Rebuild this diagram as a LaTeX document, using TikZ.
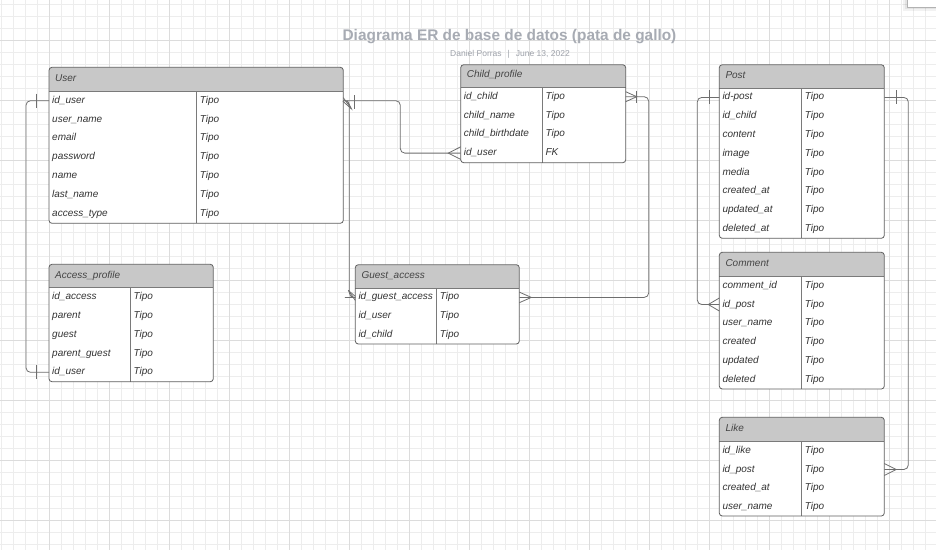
\documentclass[tikz,border=0pt]{standalone}
\usepackage{fontspec}
\setmainfont{Liberation Sans}
\usetikzlibrary{calc}
\definecolor{gridminor}{HTML}{EDEDED}
\definecolor{gridmajor}{HTML}{DCDCDC}
\definecolor{tblborder}{HTML}{5F5F5F}
\definecolor{hdrgray}{HTML}{C8C8C8}
\definecolor{divgray}{HTML}{7A7A7A}
\definecolor{rowink}{HTML}{333333}
\definecolor{hdrink}{HTML}{444444}
\definecolor{connink}{HTML}{6E6E6E}
\definecolor{titleink}{HTML}{A7ABB3}
\definecolor{subink}{HTML}{9EA2AA}
\tikzset{
  minorline/.style={draw=gridminor, line width=0.6pt},
  majorline/.style={draw=gridmajor, line width=0.8pt},
  tblbody/.style={draw=tblborder, line width=0.8pt, rounded corners=3pt, inner sep=0pt, outer sep=0pt},
  sepline/.style={draw=divgray, line width=0.7pt},
  hdrtext/.style={inner sep=0pt, font=\fontsize{10}{12}\selectfont\itshape, text=hdrink},
  rowtext/.style={inner sep=0pt, font=\fontsize{10}{12}\selectfont\itshape, text=rowink},
  conn/.style={draw=connink, line width=0.8pt, rounded corners=4.5pt},
  erdmark/.style={draw=connink, line width=0.8pt},
  titletext/.style={inner sep=0pt, font=\fontsize{15.4}{18}\selectfont\bfseries, text=titleink},
  subtext/.style={inner sep=0pt, font=\fontsize{8.5}{10}\selectfont, text=subink}
}
% name, x0, y0, x1, yh, y1, xdiv, title, rows
\newcommand\ertable[9]{%
  \fill[white, rounded corners=3pt] (#2,#3) rectangle (#4,#6);
  \begin{scope}
    \clip[rounded corners=3pt] (#2,#3) rectangle (#4,#6);
    \fill[hdrgray] (#2,#3) rectangle (#4,#5);
  \end{scope}
  \draw[sepline] (#2,#5) -- (#4,#5);
  \draw[sepline] (#7,#5) -- (#7,#6);
  \node[tblbody, minimum width={(#4-#2)*1pt}, minimum height={(#6-#3)*1pt}, anchor=north west] (#1) at (#2,#3) {};
  \node[hdrtext, anchor=base west] (#1-h) at (#2+6,#5-9.5) {#8};
  \foreach \f/\t [count=\i] in {#9} {
    \coordinate (#1-r\i) at (#2,{#5+(\i-0.5)*18.8});
    \node[rowtext, anchor=base west] (#1-f\i) at (#2+3,{#5+(\i-0.5)*18.8+2.5}) {\f};
    \node[rowtext, anchor=base west] (#1-t\i) at (#7+3,{#5+(\i-0.5)*18.8+2.5}) {\t};
  }
}
\begin{document}
\begin{tikzpicture}[x=1pt,y=-1pt]
\useasboundingbox (0,0) rectangle (936,550);
\fill[white] (0,0) rectangle (936,550);
% grid
\foreach \k in {-4,...,74} {\draw[minorline] ({49.3+12*\k},0) -- ({49.3+12*\k},550);}
\foreach \k in {-3,...,43} {\draw[minorline] (0,{40.7+12*\k}) -- (936,{40.7+12*\k});}
\foreach \k in {0,5,...,70} {\draw[majorline] ({49.3+12*\k},0) -- ({49.3+12*\k},550);}
\foreach \k in {0,5,...,40} {\draw[majorline] (0,{40.7+12*\k}) -- (936,{40.7+12*\k});}
% popup corner top right
\fill[black, opacity=0.05] (903,-2) rectangle (936,11);
\fill[black, opacity=0.06] (905,-2) rectangle (936,9);
\fill[white] (907,-2) rectangle (936,7);
\draw[gray!60, line width=0.5pt] (907,-2) -- (907,7) -- (936,7);
% title
\node[titletext, anchor=base] (title) at (509.5,40) {Diagrama ER de base de datos (pata de gallo)};
\node[subtext, anchor=base] (subtitle) at (510,56.5) {Daniel Porras\hspace{6pt}|\hspace{6pt}June 13, 2022};
% tables
\ertable{user}{49}{67.3}{343.3}{91.3}{223.3}{196.7}{User}{id\_user/Tipo, user\_name/Tipo, email/Tipo, password/Tipo, name/Tipo, last\_name/Tipo, access\_type/Tipo}
\ertable{cp}{460.7}{64.7}{625.7}{87.3}{162.7}{542.3}{Child\_profile}{id\_child/Tipo, child\_name/Tipo, child\_birthdate/Tipo, id\_user/FK}
\ertable{post}{719.3}{64.7}{884.3}{88}{238.3}{801.7}{Post}{id-post/Tipo, id\_child/Tipo, content/Tipo, image/Tipo, media/Tipo, created\_at/Tipo, updated\_at/Tipo, deleted\_at/Tipo}
\ertable{ap}{49}{264.3}{213.3}{287.7}{381.7}{130.3}{Access\_profile}{id\_access/Tipo, parent/Tipo, guest/Tipo, parent\_guest/Tipo, id\_user/Tipo}
\ertable{ga}{355.3}{264.7}{519.3}{288}{344}{436.7}{Guest\_access}{id\_guest\_access/Tipo, id\_user/Tipo, id\_child/Tipo}
\ertable{cm}{719.3}{252.3}{884.3}{276.3}{389}{801.7}{Comment}{comment\_id/Tipo, id\_post/Tipo, user\_name/Tipo, created/Tipo, updated/Tipo, deleted/Tipo}
\ertable{lk}{719.3}{417.3}{884.3}{441.3}{516}{801.7}{Like}{id\_like/Tipo, id\_post/Tipo, created\_at/Tipo, user\_name/Tipo}
% connection points
\coordinate (ue) at (user-r1 -| user.east);
\coordinate (cpe) at (cp-r1 -| cp.east);
\coordinate (gae) at (ga-r1 -| ga.east);
\coordinate (pe) at (post-r1 -| post.east);
\coordinate (lke) at (lk-r2 -| lk.east);
% User - Access_profile
\draw[conn] (user-r1) -- ++(-23,0) |- (ap-r5);
\draw[erdmark] ($(user-r1)+(-13,-7)$) -- ++(0,14);
\draw[erdmark] ($(ap-r5)+(-13,-7)$) -- ++(0,14);
% User - Child_profile
\draw[conn] (ue) -- ++(57,0) |- (cp-r4);
\draw[erdmark] ($(ue)+(11,-5.5)$) -- ++(0,14);
\draw[erdmark] ($(cp-r4)+(0,-6.3)$) -- ($(cp-r4)+(-12.4,0)$) -- ($(cp-r4)+(0,6.3)$);
% User - Guest_access
\draw[conn] (ue) -- ++(6,0) |- ($(ga-r1)+(-6,0)$) -- (ga-r1);
\draw[erdmark] ($(ue)+(-0.5,0.5)$) -- ($(ue)+(8,8)$) -- ($(ue)+(4,0)$);
\draw[erdmark] ($(ue)+(0,-3)$) -- ($(ue)+(8,8)$);
\draw[erdmark] ($(ga-r1)+(0,3)$) -- ($(ga-r1)+(-7,-7)$) -- ($(ga-r1)+(-2,0)$);
\draw[erdmark] ($(ga-r1)+(0,-1)$) -- ($(ga-r1)+(-7,-7)$);
% Child_profile - Guest_access
\draw[conn] (cpe) -- ++(23,0) |- (gae);
\draw[erdmark] ($(cpe)+(0,-5)$) -- ($(cpe)+(11,0)$) -- ($(cpe)+(0,5)$);
\draw[erdmark] ($(cpe)+(11,-6)$) -- ++(0,12);
\draw[erdmark] ($(gae)+(0,-5.3)$) -- ($(gae)+(12,0)$) -- ($(gae)+(0,5.3)$);
% Post - Comment
\draw[conn] (post-r1) -- ++(-22,0) |- (cm-r2);
\draw[erdmark] ($(post-r1)+(-10,-7)$) -- ++(0,14);
\draw[erdmark] ($(cm-r2)+(0,-6.5)$) -- ($(cm-r2)+(-11,0)$) -- ($(cm-r2)+(0,6.5)$);
% Post - Like
\draw[conn] (pe) -- ++(24,0) |- (lke);
\draw[erdmark] ($(pe)+(12.4,-7)$) -- ++(0,14);
\draw[erdmark] ($(lke)+(0,-6)$) -- ($(lke)+(12,0)$) -- ($(lke)+(0,6)$);
\end{tikzpicture}
\end{document}
